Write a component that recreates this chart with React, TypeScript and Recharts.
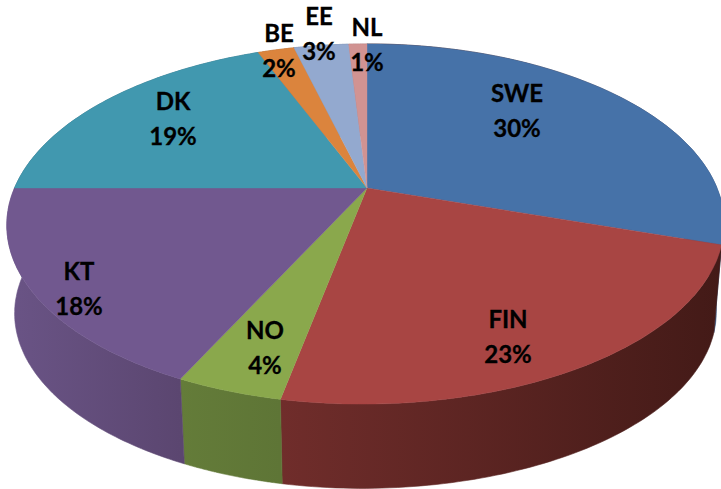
import { PieChart, Pie } from 'recharts'

const COUNTRIES = ['SWE', 'FIN', 'NO', 'KT', 'DK', 'BE', 'EE', 'NL']
const SHARES = [30, 23, 4, 18, 19, 2, 3, 1]

const TOP_COLORS = ['#4672a8', '#a84543', '#8aa84c', '#71588f', '#4198af', '#db843d', '#93a9cf', '#d19392']
// left and right shade of the side wall
const WALL_COLORS = [
  ['#4a1e19', '#34507a'],
  ['#702d2b', '#431a17'],
  ['#647c39', '#5e7536'],
  ['#6a5486', '#5b4670'],
  ['#2f6f82', '#2f6f82'],
  ['#a8642e', '#a8642e'],
  ['#6f80a0', '#6f80a0'],
  ['#a07070', '#a07070']
]
// label centres, first line
const LABEL_POS = [
  [517, 94],
  [508, 320],
  [265, 331],
  [79, 272],
  [173, 102],
  [279, 34],
  [319, 17],
  [367, 28]
]

const data = COUNTRIES.map((name, i) => ({ name, value: SHARES[i] }))

// the tilted disc is a circle seen in perspective
const PERSPECTIVE = 0.2
const SQUASH = 0.494
const WALL_DROP = 89
const WALL_SHRINK = 0.978
const LEAN = 2.5

function project(cx: number, cy: number, r: number, deg: number, lower = false): [number, number] {
  const a = (deg * Math.PI) / 180
  const u = Math.cos(a)
  const v = Math.sin(a)
  const d = 1 + PERSPECTIVE * v
  const s = lower ? WALL_SHRINK : 1
  // the reference leans a little to the left on its front and left side only
  const lean = LEAN * (1 - v) * (u < 0 ? 1 : 1 - u)
  return [cx + (s * r * u) / d - lean, cy + (lower ? WALL_DROP : 0) - (s * r * SQUASH * v) / d]
}

function arc(p: any, lower = false): [number, number][] {
  const steps = 80
  const pts: [number, number][] = []
  for (let i = 0; i <= steps; i++) {
    const deg = p.startAngle + ((p.endAngle - p.startAngle) * i) / steps
    pts.push(project(p.cx, p.cy, p.outerRadius, deg, lower))
  }
  return pts
}

function toPath(pts: [number, number][]): string {
  return 'M' + pts.map((q) => `${q[0].toFixed(1)},${q[1].toFixed(1)}`).join('L') + 'Z'
}

function WallSector(props: any): JSX.Element {
  const i = COUNTRIES.indexOf(props.name)
  const upper = arc(props)
  const lower = arc(props, true).reverse()
  const xs = upper.map((q) => q[0])
  const id = `wall-${i}`
  return (
    <g>
      <defs>
        <linearGradient id={id} gradientUnits="userSpaceOnUse" x1={Math.min(...xs)} x2={Math.max(...xs)} y1={0} y2={0}>
          <stop offset="0%" stopColor={WALL_COLORS[i][0]} />
          <stop offset="100%" stopColor={WALL_COLORS[i][1]} />
        </linearGradient>
      </defs>
      <path d={toPath([...upper, ...lower])} fill={`url(#${id})`} stroke={`url(#${id})`} strokeWidth={0.6} />
    </g>
  )
}

function TopSector(props: any): JSX.Element {
  const i = COUNTRIES.indexOf(props.name)
  return (
    <path
      d={toPath([[props.cx, props.cy], ...arc(props)])}
      fill={TOP_COLORS[i]}
      stroke={TOP_COLORS[i]}
      strokeWidth={0.4}
    />
  )
}

function SliceLabel(props: any): JSX.Element {
  const i = COUNTRIES.indexOf(props.name)
  const [x, y] = LABEL_POS[i]
  return (
    <text textAnchor="middle" fontFamily="Lato" fontWeight={700} fontSize={24} fill="#000" stroke="#000" strokeWidth={0.3}>
      <tspan x={x} y={y + 8}>{props.name}</tspan>
      <tspan x={x} y={y + 43}>{`${props.value}%`}</tspan>
    </text>
  )
}

function App(): JSX.Element {
  return (
    <div style={{ position: 'absolute', left: 0, top: 0, width: 721, height: 489, overflow: 'hidden', background: '#fff' }}>
      <PieChart width={721} height={489} margin={{ top: 0, right: 0, bottom: 0, left: 0 }}>
        <Pie
          data={data}
          dataKey="value"
          nameKey="name"
          cx={367}
          cy={188}
          outerRadius={350}
          startAngle={90}
          endAngle={-270}
          stroke="none"
          isAnimationActive={false}
          shape={WallSector}
        />
        <Pie
          data={data}
          dataKey="value"
          nameKey="name"
          cx={367}
          cy={188}
          outerRadius={350}
          startAngle={90}
          endAngle={-270}
          stroke="none"
          isAnimationActive={false}
          shape={TopSector}
          label={SliceLabel}
          labelLine={false}
        />
      </PieChart>
    </div>
  )
}

export default App
